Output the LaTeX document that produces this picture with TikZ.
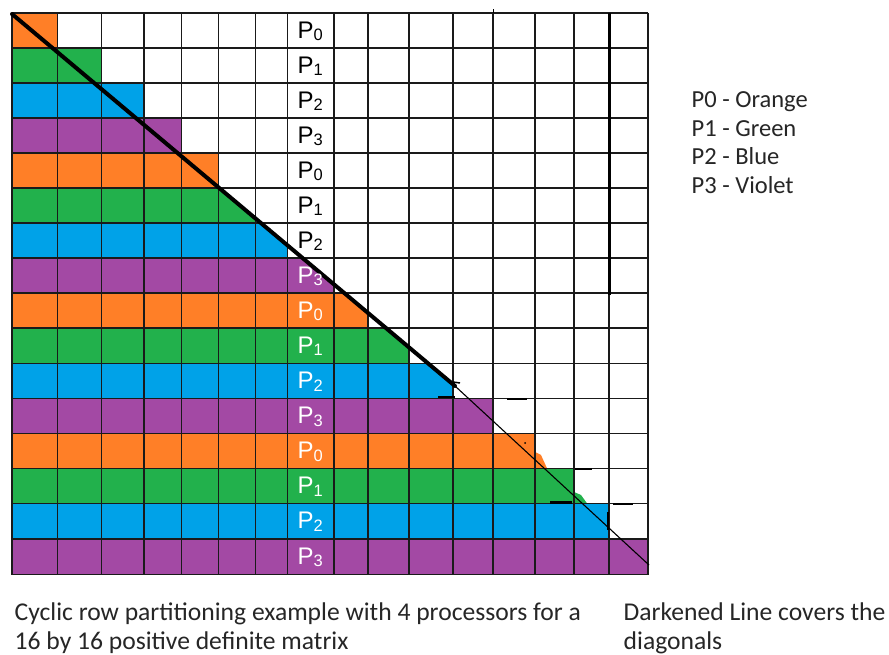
\documentclass[tikz,border=0pt]{standalone}
\usepackage{fontspec}
\setmainfont{Carlito}
\newfontfamily\arialf{Liberation Sans}
\definecolor{porange}{HTML}{FF7F27}
\definecolor{pgreen}{HTML}{22B14C}
\definecolor{pblue}{HTML}{00A2E8}
\definecolor{pviolet}{HTML}{A349A4}
\definecolor{gridc}{HTML}{1A1A1A}
\begin{document}
\begin{tikzpicture}[x=1pt,y=-1pt,
  gridline/.style={line width=1.2pt, draw=gridc},
  diagthick/.style={line width=4pt, line cap=round, draw=black},
  diagthin/.style={line width=1.1pt, draw=black},
  straymark/.style={line width=2.4pt, draw=black},
  plabel/.style={inner sep=0pt, anchor=base west, font=\arialf\fontsize{24}{24}\selectfont},
  legendtext/.style={inner sep=0pt, anchor=base west, font=\fontsize{24.5}{24.5}\selectfont, text=black!85},
  captiontext/.style={inner sep=0pt, anchor=base west, font=\fontsize{25.6}{25.6}\selectfont, text=black!85}]
\useasboundingbox (0,0) rectangle (889,655);
\fill[white] (0,0) rectangle (889,655);
\def\xs{{12,57.7,101.7,144,181.7,218.3,255.7,287.3,334,368,409,453,493,535,574,609,648}}
\def\ys{{13,48,83,118,153,188,223,258,293,328,363.5,398.3,433.3,468.3,503.3,539,574.5}}
% full rows
\foreach \i/\c in {0/porange,1/pgreen,2/pblue,3/pviolet,4/porange,11/pviolet,12/porange,13/pgreen,14/pblue,15/pviolet}{
  \pgfmathsetmacro\xb{\xs[\i+1]}
  \pgfmathsetmacro\ya{\ys[\i]}
  \pgfmathsetmacro\yb{\ys[\i+1]}
  \fill[\c] (12,\ya) rectangle (\xb,\yb);
}
% rows whose diagonal cell is cut by the thick line
\begin{scope}
  \clip (0,0) -- (12,14) -- (455,386) -- (471.7,400) -- (471.7,620) -- (0,620) -- cycle;
  \foreach \i/\c in {5/pgreen,6/pblue,7/pviolet,8/porange,9/pgreen,10/pblue}{
    \pgfmathsetmacro\xb{\xs[\i+1]}
    \pgfmathsetmacro\ya{\ys[\i]}
    \pgfmathsetmacro\yb{\ys[\i+1]}
    \fill[\c] (12,\ya) rectangle (\xb,\yb);
  }
\end{scope}
% paint smears
\fill[porange] (535,452) -- (541,455) -- (547,468.3) -- (535,468.3) -- cycle;
\fill[pgreen] (574,492) -- (581,495) -- (587,503.3) -- (574,503.3) -- cycle;
% grid
\foreach \k in {0,...,16}{
  \pgfmathsetmacro\xk{\xs[\k]}
  \pgfmathsetmacro\yk{\ys[\k]}
  \draw[gridline] (\xk,13) -- (\xk,574.5);
  \draw[gridline] (12,\yk) -- (648,\yk);
}
\draw[line width=3pt] (609,13) -- (609,295);
\draw[line width=1pt] (493.3,9.5) -- (493.3,13);
% diagonal
\draw[diagthick] (12,14) -- (455,386);
\draw[diagthin] (455,386) -- (649,565);
\draw[line width=1.5pt] (453,382) -- (460,383);
% stray marks
\draw[straymark] (438,397) -- (455,397);
\draw[straymark] (507,399) -- (527,399);
\draw[straymark] (575,469) -- (592,469);
\draw[straymark] (550,502.5) -- (572,502.5);
\draw[straymark] (613,504) -- (633,504);
\draw[line width=2pt] (608,512) -- (608,530);
\fill (525,443) circle (1pt);
% processor labels
\foreach \i/\d/\t in {0/0/black,1/1/black,2/2/black,3/3/black,4/0/black,5/1/black,6/2/black,
  7/3/white,8/0/white,9/1/white,10/2/white,11/3/white,12/0/white,13/1/white,14/2/white,15/3/white}{
  \pgfmathsetmacro\yb{\ys[\i]+25.3}
  \node[plabel, text=\t] (lab\i) at (297.5,\yb) {P\raisebox{-2.6pt}{\fontsize{16.5}{16.5}\selectfont\d}};
}
% legend
\node[legendtext] (leg0) at (691.5,107.3) {P0 - Orange};
\node[legendtext] (leg1) at (691.5,136.1) {P1 - Green};
\node[legendtext] (leg2) at (691.5,164.9) {P2 - Blue};
\node[legendtext] (leg3) at (691.5,193.7) {P3 - Violet};
% captions
\node[captiontext] (cap1) at (14.5,620.5) {Cyclic row partitioning example with 4 processors for a};
\node[captiontext] (cap2) at (14.5,649.5) {16 by 16 positive definite matrix};
\node[captiontext] (cap3) at (623.5,620.5) {Darkened Line covers the};
\node[captiontext] (cap4) at (623.5,649.5) {diagonals};
\end{tikzpicture}
\end{document}
